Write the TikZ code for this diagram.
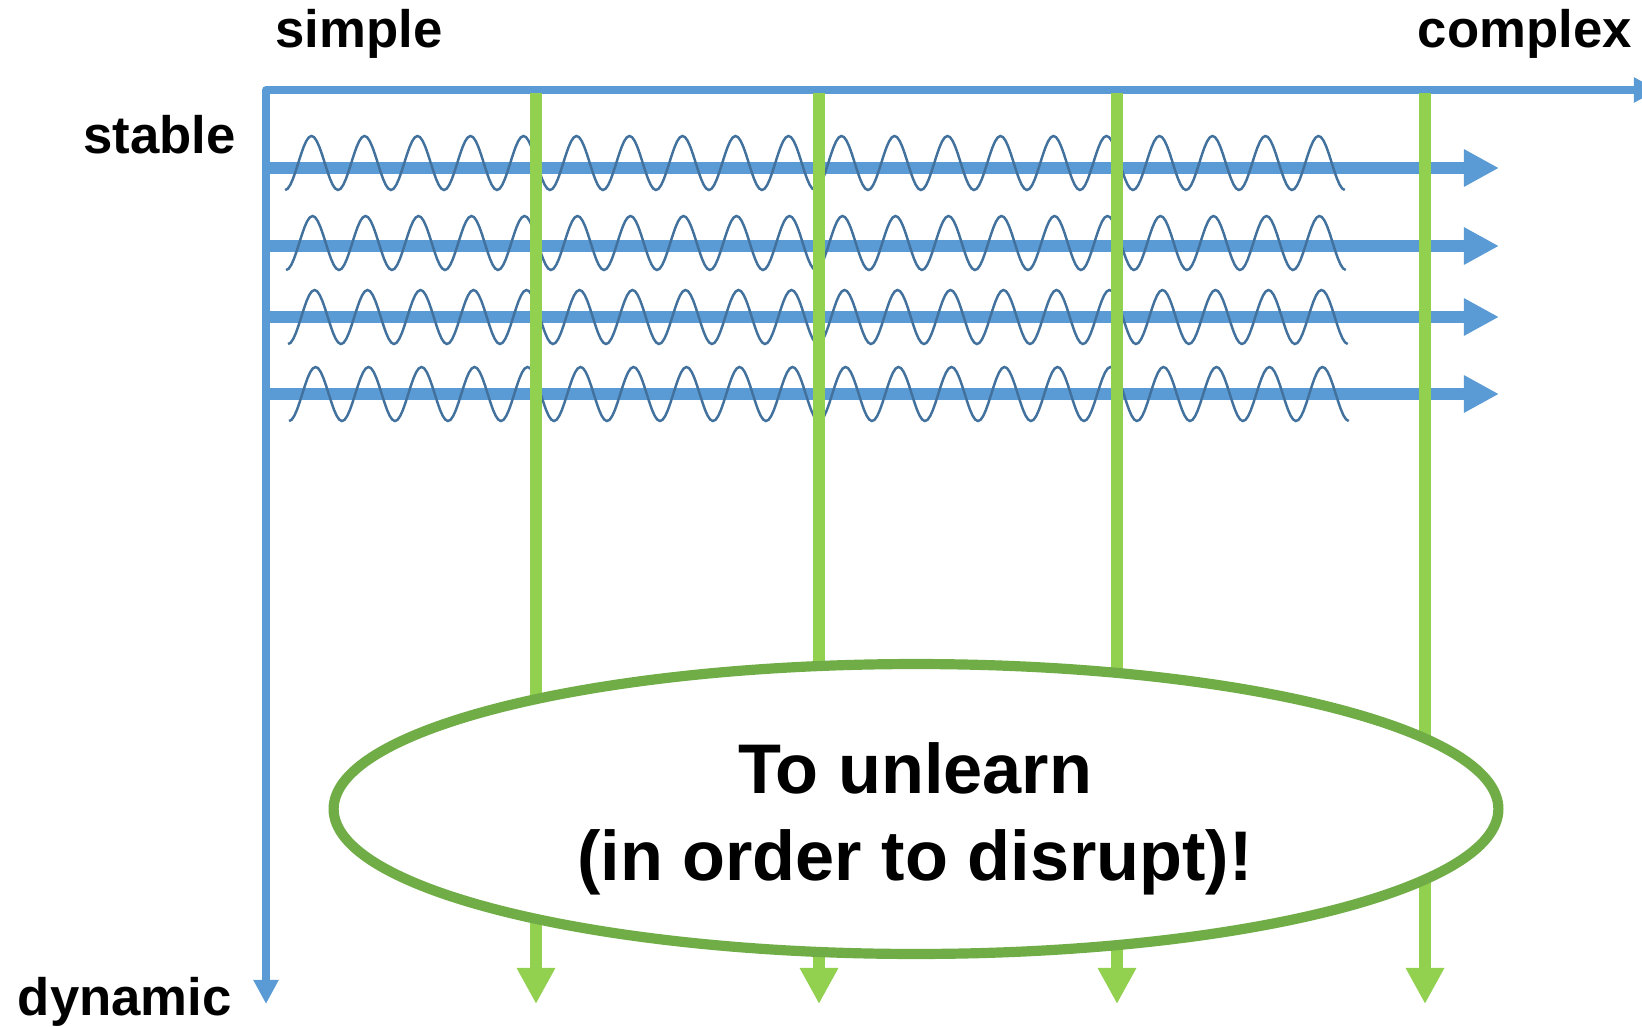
\documentclass[tikz,border=0pt]{standalone}
\usepackage{fontspec}
\setmainfont{Liberation Sans}
\usepackage{xcolor}
\usetikzlibrary{arrows.meta, shapes.geometric, positioning}

\definecolor{axisblue}{HTML}{5B9BD5}
\definecolor{waveblue}{HTML}{41719C}
\definecolor{leafgreen}{HTML}{92D050}
\definecolor{ringgreen}{HTML}{70AD47}

\begin{document}
\begin{tikzpicture}[
    x=0.02cm, y=-0.02cm,
    axis/.style={draw=axisblue, line width=4.3pt, line join=round,
                 {Triangle[length=13.7pt, width=13.5pt]}-{Triangle[length=13.7pt, width=13.5pt]}},
    flow/.style={draw=axisblue, line width=6.8pt, -{Triangle[length=20pt, width=20pt]}},
    wave/.style={draw=waveblue, line width=1.4pt},
    drop/.style={draw=leafgreen, line width=6.3pt, -{Triangle[length=20.5pt, width=20.5pt]}},
    lbl/.style={font=\fontsize{30}{36}\selectfont\bfseries, inner sep=0pt},
    bubble/.style={ellipse, draw=ringgreen, line width=5.8pt, fill=white,
                   minimum width=23.3cm, minimum height=5.8cm, inner sep=0pt},
    bubtext/.style={align=center, inner sep=0pt,
                    font=\fontsize{40}{49.5}\selectfont\bfseries}
]
\useasboundingbox (0,0) rectangle (1642,1027);

\coordinate (origin) at (266,90);
\coordinate (xend) at (1658,90);
\coordinate (yend) at (266,1004);
\draw[axis] (yend) -- (origin) -- (xend);

\node[lbl] (simple) at (359,34) {simple};
\node[lbl, anchor=east] (complex) at (1632,34) {complex};
\node[lbl, anchor=east] (stable) at (236,135) {stable};
\node[lbl, anchor=east] (dynamic) at (232,1002) {dynamic};

\foreach \y [count=\i] in {168,246,317,394} {
  \coordinate (fs\i) at (266,\y);
  \coordinate (fe\i) at (1499,\y);
  \draw[flow] (fs\i) -- (fe\i);
}

\foreach \c/\s in {163/285, 243/286, 317/288, 394/289}
  \draw[wave] plot[domain=0:20, samples=401] ({\s+53*\x}, {\c+27*cos(360*\x)});

\foreach \x [count=\i] in {536,819,1117,1425} {
  \coordinate (dt\i) at (\x,93.5);
  \coordinate (db\i) at (\x,1004);
  \draw[drop] (dt\i) -- (db\i);
}

\node[bubble] (unlearn) at (916,809) {};
\node[bubtext] (motto) at (915,819) {To unlearn\\(in order to disrupt)!};

\end{tikzpicture}
\end{document}
